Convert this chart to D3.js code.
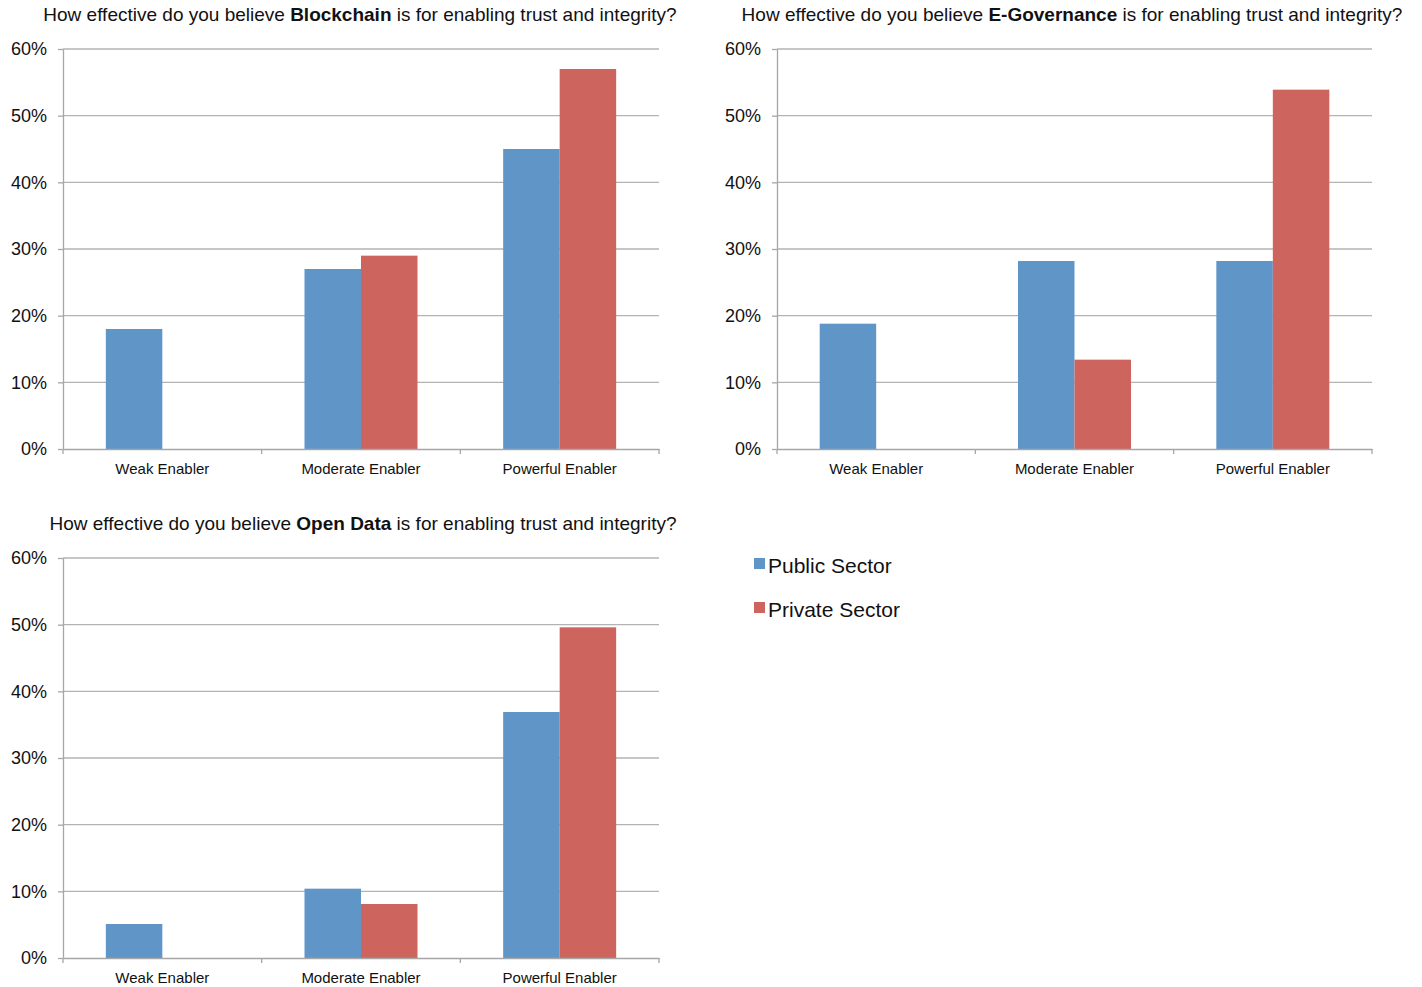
<!DOCTYPE html>
<html>
<head>
<meta charset="utf-8">
<script src="https://cdn.jsdelivr.net/npm/d3@7"></script>
<style>
  body { margin: 0; background: #fff; }
  svg { font-family: "Liberation Sans", Arial, Helvetica, sans-serif; }
</style>
</head>
<body>
<svg id="chart" width="1422" height="987"></svg>
<script>
const categories = ['Weak Enabler', 'Moderate Enabler', 'Powerful Enabler'];
const seriesNames = ['Public Sector', 'Private Sector'];
const colors = ['#6095c8', '#cd645d'];
const yTicks = [0, 10, 20, 30, 40, 50, 60];

// values in %, null where no bar was drawn
const blockchainPublic = [18, 27, 45];
const blockchainPrivate = [null, 29, 57];
const egovPublic = [18.8, 28.2, 28.2];
const egovPrivate = [null, 13.4, 53.9];
const openDataPublic = [5.1, 10.4, 36.9];
const openDataPrivate = [null, 8.1, 49.6];

const panels = [
  { topic: 'Blockchain', pub: blockchainPublic, priv: blockchainPrivate, x0: 63, x1: 659, y0: 449, y1: 49, titleX: 360, titleY: 21 },
  { topic: 'E-Governance', pub: egovPublic, priv: egovPrivate, x0: 777, x1: 1372, y0: 449, y1: 49, titleX: 1072, titleY: 21 },
  { topic: 'Open Data', pub: openDataPublic, priv: openDataPrivate, x0: 63, x1: 659, y0: 958, y1: 558, titleX: 363, titleY: 530 }
];

const svg = d3.select('#chart');

panels.forEach(p => {
  const g = svg.append('g');

  const x = d3.scaleBand().domain(categories).range([p.x0, p.x1]);
  const y = d3.scaleLinear().domain([0, 60]).range([p.y0, p.y1]);
  const barW = 56.5;

  // title
  const title = g.append('text')
    .attr('x', p.titleX)
    .attr('y', p.titleY)
    .attr('text-anchor', 'middle')
    .attr('font-size', 19)
    .attr('fill', '#111');
  title.append('tspan').text('How effective do you believe ');
  title.append('tspan').attr('font-weight', 'bold').text(p.topic);
  title.append('tspan').text(' is for enabling trust and integrity?');

  // gridlines
  g.selectAll('line.grid')
    .data(yTicks.slice(1))
    .enter().append('line')
    .attr('x1', p.x0).attr('x2', p.x1)
    .attr('y1', d => y(d)).attr('y2', d => y(d))
    .attr('stroke', '#b3b3b3').attr('stroke-width', 1.3);

  // bars
  const bars = [];
  categories.forEach((c, i) => {
    if (p.pub[i] !== null) bars.push({ c, s: 0, v: p.pub[i] });
    if (p.priv[i] !== null) bars.push({ c, s: 1, v: p.priv[i] });
  });
  g.selectAll('rect.bar')
    .data(bars)
    .enter().append('rect')
    .attr('x', d => x(d.c) + x.bandwidth() / 2 - barW + d.s * barW)
    .attr('y', d => y(d.v))
    .attr('width', barW)
    .attr('height', d => p.y0 - y(d.v))
    .attr('fill', d => colors[d.s]);

  // y axis
  const yAxis = g.append('g')
    .attr('transform', 'translate(' + p.x0 + ',0)')
    .call(d3.axisLeft(y).tickValues(yTicks).tickFormat(d => d + '%').tickSize(5).tickSizeOuter(0));
  yAxis.select('.domain').attr('stroke', '#a6a6a6').attr('stroke-width', 1.3);
  yAxis.selectAll('.tick line').attr('stroke', '#a6a6a6').attr('stroke-width', 1.3);
  yAxis.selectAll('.tick text')
    .attr('font-size', 18).attr('fill', '#111').attr('x', -16)
    .attr('font-family', '"Liberation Sans", Arial, sans-serif');

  // x axis
  const xAxis = g.append('g')
    .attr('transform', 'translate(0,' + p.y0 + ')')
    .call(d3.axisBottom(x).tickSize(0).tickSizeOuter(0));
  xAxis.select('.domain').attr('stroke', '#a6a6a6').attr('stroke-width', 1.3);
  xAxis.selectAll('.tick text')
    .attr('font-size', 15).attr('fill', '#111').attr('y', 14)
    .attr('font-family', '"Liberation Sans", Arial, sans-serif');
  // category boundary ticks
  const bounds = categories.map(c => x(c)).concat([p.x1]);
  xAxis.selectAll('line.sep')
    .data(bounds)
    .enter().append('line')
    .attr('x1', d => d).attr('x2', d => d)
    .attr('y1', 0).attr('y2', 5)
    .attr('stroke', '#a6a6a6').attr('stroke-width', 1.3);
});

// legend
const legend = svg.append('g').attr('transform', 'translate(754,558)');
seriesNames.forEach((s, i) => {
  legend.append('rect')
    .attr('x', 0).attr('y', i * 44)
    .attr('width', 11).attr('height', 11)
    .attr('fill', colors[i]);
  legend.append('text')
    .attr('x', 14).attr('y', i * 44 + 15)
    .attr('font-size', 21).attr('fill', '#111')
    .text(s);
});
</script>
</body>
</html>
